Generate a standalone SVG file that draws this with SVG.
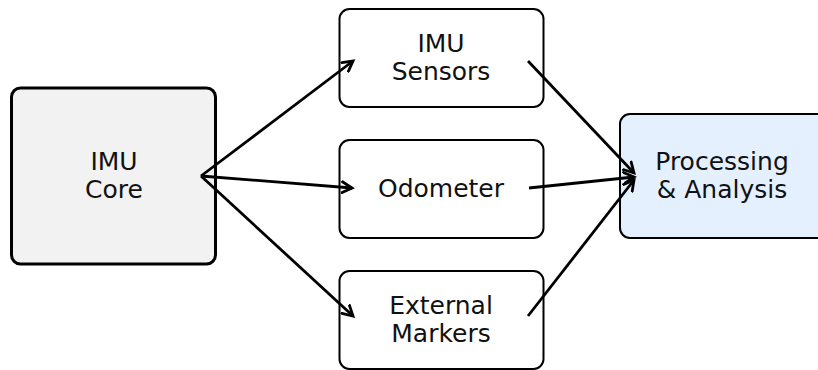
<svg xmlns="http://www.w3.org/2000/svg" width="818" height="370" viewBox="0 0 818 370">
<defs>
<marker id="ah" markerWidth="14" markerHeight="14" refX="11" refY="7" orient="auto" markerUnits="userSpaceOnUse">
<path d="M1,1.5 L11,7 L1,12.5" fill="none" stroke="#000" stroke-width="2.8" stroke-linecap="round" stroke-linejoin="miter"/>
</marker>
</defs>
<style>
.t{font-family:"DejaVu Sans",sans-serif;font-size:25px;fill:#111;text-anchor:middle}
.box{fill:#fff;stroke:#000;stroke-width:2}
.c{fill:none;stroke:#000;stroke-width:2.8;marker-end:url(#ah)}
</style>
<rect width="818" height="370" fill="#fff"/>
<g id="imu-core">
<rect x="11.5" y="88" width="204" height="176" rx="9" fill="#f2f2f2" stroke="#000" stroke-width="3"/>
<text class="t" x="114" y="170">IMU</text>
<text class="t" x="114" y="198">Core</text>
</g>
<g id="imu-sensors">
<rect class="box" x="339.5" y="9" width="204" height="98" rx="10"/>
<text class="t" x="441" y="52">IMU</text>
<text class="t" x="441" y="80">Sensors</text>
</g>
<g id="odometer">
<rect class="box" x="339.5" y="140" width="204" height="98" rx="10"/>
<text class="t" x="441" y="197">Odometer</text>
</g>
<g id="external-markers">
<rect class="box" x="339.5" y="271" width="204" height="98" rx="10"/>
<text class="t" x="441" y="314">External</text>
<text class="t" x="441" y="342">Markers</text>
</g>
<g id="processing">
<rect x="620" y="114" width="210" height="124" rx="10" fill="#e5f0ff" stroke="#000" stroke-width="2"/>
<text class="t" x="722" y="170">Processing</text>
<text class="t" x="722" y="198">&amp; Analysis</text>
</g>
<g id="connectors">
<line class="c" x1="201" y1="176" x2="353" y2="61"/>
<line class="c" x1="201" y1="176" x2="352" y2="188"/>
<line class="c" x1="201" y1="176" x2="353" y2="316"/>
<line class="c" x1="528" y1="61" x2="634" y2="173"/>
<line class="c" x1="529" y1="188" x2="634" y2="177"/>
<line class="c" x1="528" y1="316" x2="634" y2="180"/>
</g>
</svg>
